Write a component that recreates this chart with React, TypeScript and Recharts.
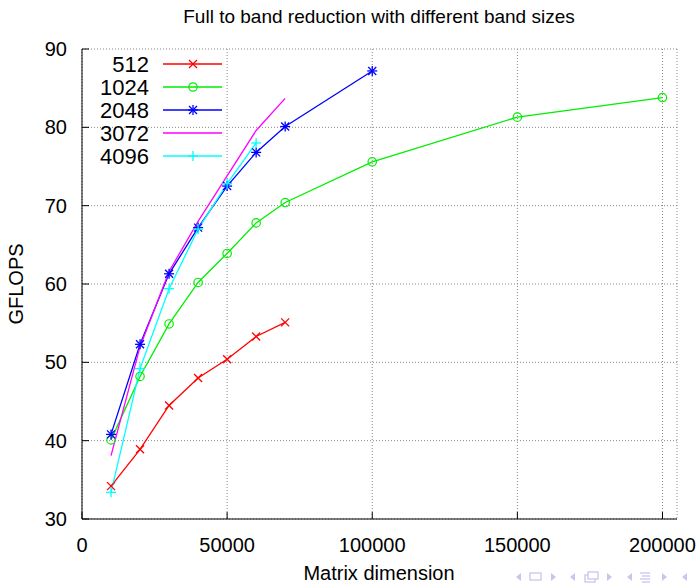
import React from "react";
import { LineChart, Line, XAxis, YAxis, CartesianGrid, Legend } from "recharts";

// matrix sizes (x) and GFLOPS per band size
const matrixDims = [10000, 20000, 30000, 40000, 50000, 60000, 70000, 100000, 150000, 200000];
const band512 = [34.2, 38.9, 44.5, 48.0, 50.4, 53.3, 55.1];
const band1024 = [40.1, 48.2, 54.9, 60.2, 63.9, 67.8, 70.4, 75.6, 81.3, 83.8];
const band2048 = [40.8, 52.3, 61.3, 67.2, 72.5, 76.8, 80.1, 87.2];
const band3072 = [38.1, 52.0, 61.6, 68.0, 73.8, 79.6, 83.7];
const band4096 = [33.4, 49.2, 59.4, 67.0, 72.8, 78.0];

const xTicks = [0, 50000, 100000, 150000, 200000];
const yTicks = [30, 40, 50, 60, 70, 80, 90];

const toPoints = (vals: number[]) => vals.map((g, i) => ({ n: matrixDims[i], g }));

type Shape = "x" | "circle" | "star" | "none" | "plus";

const series: { name: string; values: number[]; color: string; shape: Shape }[] = [
  { name: "512", values: band512, color: "#ff0000", shape: "x" },
  { name: "1024", values: band1024, color: "#00ee00", shape: "circle" },
  { name: "2048", values: band2048, color: "#0000ff", shape: "star" },
  { name: "3072", values: band3072, color: "#ff00ff", shape: "none" },
  { name: "4096", values: band4096, color: "#00ffff", shape: "plus" },
];

function Marker({ shape, cx, cy, color }: { shape: Shape; cx: number; cy: number; color: string }) {
  const s = 4;
  const diag = (
    <>
      <line x1={cx - s} y1={cy - s} x2={cx + s} y2={cy + s} />
      <line x1={cx - s} y1={cy + s} x2={cx + s} y2={cy - s} />
    </>
  );
  const cross = (
    <>
      <line x1={cx - s - 1} y1={cy} x2={cx + s + 1} y2={cy} />
      <line x1={cx} y1={cy - s - 1} x2={cx} y2={cy + s + 1} />
    </>
  );
  if (shape === "circle")
    return <circle cx={cx} cy={cy} r={4.2} fill="none" stroke={color} strokeWidth={1.2} />;
  if (shape === "none") return <g />;
  return (
    <g stroke={color} strokeWidth={1.3}>
      {shape === "x" && diag}
      {shape === "plus" && cross}
      {shape === "star" && (
        <>
          {diag}
          {cross}
        </>
      )}
    </g>
  );
}

function BandLegend() {
  const rowY = [64, 87, 110, 133, 156];
  return (
    <svg width={240} height={175} style={{ display: "block" }}>
      {series.map((s, i) => (
        <g key={s.name}>
          <text x={149} y={rowY[i] + 8} textAnchor="end" fontSize={22} fill="#000">
            {s.name}
          </text>
          <line x1={163} y1={rowY[i]} x2={222} y2={rowY[i]} stroke={s.color} strokeWidth={1.3} />
          <Marker shape={s.shape} cx={193} cy={rowY[i]} color={s.color} />
        </g>
      ))}
    </svg>
  );
}

function NavSymbols() {
  const c = "#c6c6ee";
  const tri = (x: number, left: boolean) =>
    left ? (
      <polygon points={`${x + 4},${-4} ${x + 4},${4} ${x - 1},0`} fill={c} />
    ) : (
      <polygon points={`${x - 2},${-4} ${x - 2},${4} ${x + 3},0`} fill={c} />
    );
  return (
    <svg width={200} height={20} style={{ position: "absolute", left: 497, top: 567 }}>
      <g transform="translate(0,10)">
        {tri(20, true)}
        <rect x={33} y={-4} width={11} height={7} fill="none" stroke={c} strokeWidth={1.3} />
        {tri(56, false)}
        {tri(74, true)}
        <rect x={88} y={-2} width={10} height={7} fill="none" stroke={c} strokeWidth={1.3} />
        <rect x={91} y={-5} width={10} height={7} fill="#fff" stroke={c} strokeWidth={1.3} />
        {tri(112, false)}
        {tri(131, true)}
        <line x1={143} y1={-4} x2={153} y2={-4} stroke={c} strokeWidth={1.3} />
        <line x1={145} y1={-1} x2={153} y2={-1} stroke={c} strokeWidth={1.3} />
        <line x1={143} y1={2} x2={153} y2={2} stroke={c} strokeWidth={1.3} />
        <line x1={145} y1={5} x2={153} y2={5} stroke={c} strokeWidth={1.3} />
        {tri(167, false)}
        {tri(186, true)}
      </g>
    </svg>
  );
}

export default function App() {
  return (
    <div
      style={{
        position: "absolute",
        left: 0,
        top: 0,
        width: 697,
        height: 585,
        background: "#fff",
        fontFamily: "'Liberation Sans', Arial, sans-serif",
      }}
    >
      <div
        style={{
          position: "absolute",
          left: 379,
          top: 6,
          transform: "translateX(-50%)",
          whiteSpace: "nowrap",
          fontSize: 19,
          lineHeight: "22px",
          color: "#000",
        }}
      >
        Full to band reduction with different band sizes
      </div>
      <LineChart width={697} height={585} margin={{ top: 49, right: 20, bottom: 0, left: 0 }}>
        <CartesianGrid stroke="#888" strokeDasharray="1 2" />
        <XAxis
          type="number"
          dataKey="n"
          domain={[0, 205000]}
          ticks={xTicks}
          allowDataOverflow
          height={66}
          stroke="#000"
          tickSize={-7}
          tickMargin={26}
          tick={{ fill: "#000", fontSize: 20 }}
          label={{
            content: () => (
              <text x={379} y={580} textAnchor="middle" fontSize={20} fill="#000">
                Matrix dimension
              </text>
            ),
          }}
        />
        <XAxis
          xAxisId="top"
          orientation="top"
          type="number"
          dataKey="n"
          domain={[0, 205000]}
          ticks={xTicks}
          allowDataOverflow
          height={0}
          stroke="#000"
          tickSize={-7}
          tick={() => <g />}
        />
        <YAxis
          type="number"
          domain={[30, 90]}
          ticks={yTicks}
          allowDataOverflow
          width={82}
          stroke="#000"
          tickSize={-7}
          tickMargin={22}
          tick={{ fill: "#000", fontSize: 20 }}
          label={{
            content: () => (
              <text
                x={23}
                y={284}
                transform="rotate(-90, 23, 284)"
                textAnchor="middle"
                fontSize={20}
                fill="#000"
              >
                GFLOPS
              </text>
            ),
          }}
        />
        <YAxis
          yAxisId="right"
          orientation="right"
          type="number"
          domain={[30, 90]}
          ticks={yTicks}
          allowDataOverflow
          width={0}
          stroke="#000"
          tickSize={-7}
          tick={() => <g />}
        />
        <Legend
          layout="vertical"
          align="center"
          verticalAlign="middle"
          content={() => <BandLegend />}
          wrapperStyle={{ position: "absolute", left: 0, top: 0, width: 240, height: 175 }}
        />
        {series.map((s) => (
          <Line
            key={s.name}
            name={s.name}
            data={toPoints(s.values)}
            dataKey="g"
            stroke={s.color}
            strokeWidth={1.3}
            isAnimationActive={false}
            dot={
              s.shape === "none"
                ? false
                : (p: any) => (
                    <Marker key={`${s.name}-${p.index}`} shape={s.shape} cx={p.cx} cy={p.cy} color={s.color} />
                  )
            }
            activeDot={false}
          />
        ))}
      </LineChart>
      <NavSymbols />
    </div>
  );
}
